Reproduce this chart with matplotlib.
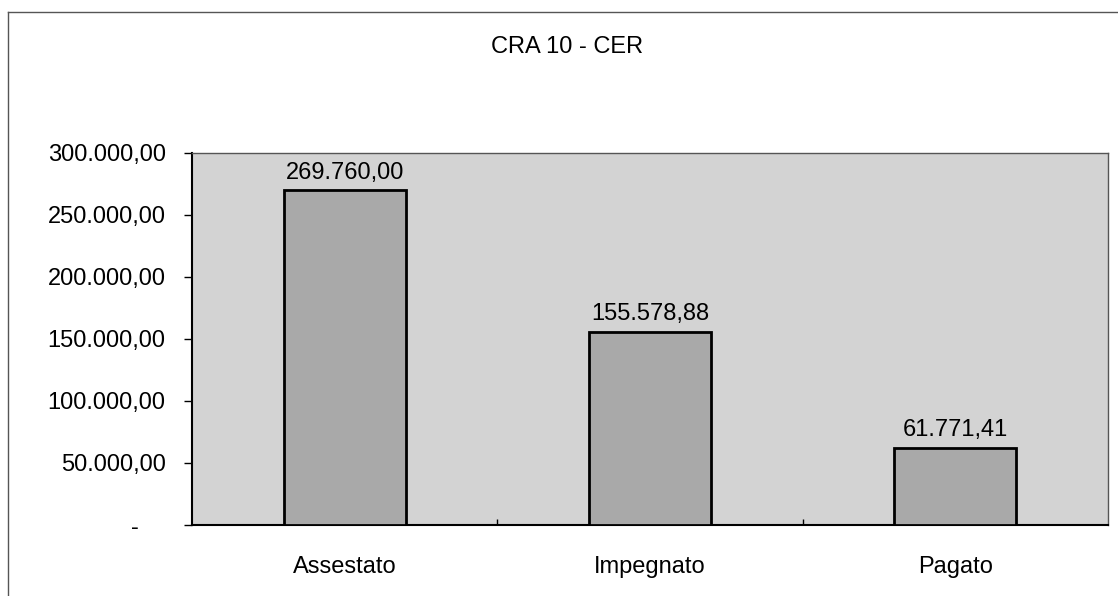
import numpy as np
import matplotlib.pyplot as plt
from matplotlib.lines import Line2D
from matplotlib.ticker import FuncFormatter

plt.rcParams['font.family'] = ['Liberation Sans', 'DejaVu Sans']

# dati
TITLE = "CRA 10 - CER"
CATEGORIES = ["Assestato", "Impegnato", "Pagato"]
VALUES = [269760.00, 155578.88, 61771.41]
Y_TICKS = [0, 50000, 100000, 150000, 200000, 250000, 300000]


def fmt_it(v):
    # formato italiano: 1.234,56
    s = f"{v:,.2f}"
    return s.replace(",", "X").replace(".", ",").replace("X", ".")


def fmt_tick(v, pos):
    if v == 0:
        return "-    "
    return fmt_it(v)


W, H = 1118, 596
fig = plt.figure(figsize=(W / 100, H / 100), dpi=100)
ax = fig.add_axes([192 / W, 1 - 525 / H, (1108 - 192) / W, (525 - 153) / H])

ax.set_facecolor("#d3d3d3")
x = np.arange(len(CATEGORIES))
ax.bar(x, VALUES, width=0.4, color="#a9a9a9", edgecolor="black", linewidth=2, zorder=3)

for xi, v in zip(x, VALUES):
    ax.annotate(fmt_it(v), (xi, v), xytext=(0, 5), textcoords="offset points",
                ha="center", va="bottom", fontsize=17, zorder=4)

ax.set_xlim(-0.5, 2.5)
ax.set_ylim(0, 300000)
ax.set_yticks(Y_TICKS)
ax.yaxis.set_major_formatter(FuncFormatter(fmt_tick))
ax.tick_params(axis="y", direction="out", length=6, width=1, pad=13, labelsize=17)
ax.set_xticks(x)
ax.set_xticklabels(CATEGORIES)
ax.tick_params(axis="x", length=0, pad=22, labelsize=17)
ax.set_xticks([0.5, 1.5], minor=True)
ax.tick_params(axis="x", which="minor", direction="in", length=4, width=1)

for side in ["left", "bottom"]:
    ax.spines[side].set_color("black")
    ax.spines[side].set_linewidth(1.5)
for side in ["top", "right"]:
    ax.spines[side].set_color("#555555")
    ax.spines[side].set_linewidth(1)

fig.text(567.5 / W, 1 - 47 / H, TITLE, ha="center", va="center", fontsize=17)

# bordo del grafico
fig.add_artist(Line2D([8 / W, 8 / W], [0, 1 - 12 / H], color="#555555", linewidth=1))
fig.add_artist(Line2D([8 / W, 1], [1 - 12 / H, 1 - 12 / H], color="#555555", linewidth=1))

fig.savefig("out.png", dpi=100)
